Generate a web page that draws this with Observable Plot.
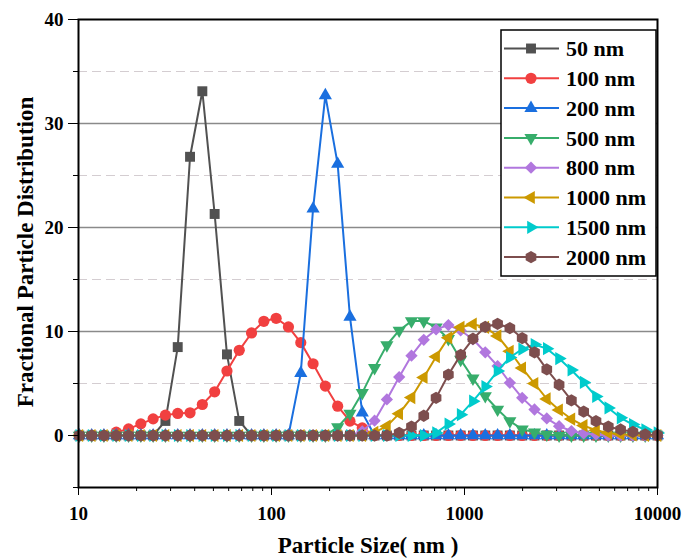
<!DOCTYPE html>
<html>
<head>
<meta charset="utf-8">
<script src="https://cdn.jsdelivr.net/npm/d3@7"></script>
<script src="https://cdn.jsdelivr.net/npm/@observablehq/plot@0.6"></script>
<style>
  html, body { margin: 0; padding: 0; background: #fff; }
  #chart { width: 684px; height: 560px; }
</style>
</head>
<body>
<div id="chart"></div>
<script>
// Particle size classes (nm)
const sizes = [10.10, 11.70, 13.54, 15.69, 18.17, 21.04, 24.36, 28.21, 32.67, 37.84,
  43.82, 50.75, 58.77, 68.06, 78.82, 91.28, 105.7, 122.4, 141.8, 164.2,
  190.1, 220.2, 255.0, 295.3, 342.0, 396.1, 458.7, 531.2, 615.1, 712.4,
  825.0, 955.4, 1106, 1281, 1484, 1718, 1990, 2305, 2669, 3091,
  3580, 4145, 4801, 5560, 6439, 7456, 8635, 10000];

const seriesNames = ["50 nm", "100 nm", "200 nm", "500 nm", "800 nm", "1000 nm", "1500 nm", "2000 nm"];
const seriesColors = ["#515151", "#F14040", "#1A6FDF", "#37AD6B", "#B177DE", "#CC9900", "#00CBCC", "#7D4E4E"];

const v50 = [0,0,0,0,0,0,0,1.4,8.5,26.8, 33.1,21.3,7.8,1.4,0,0,0,0,0,0, 0,0,0,0,0,0,0,0,0,0, 0,0,0,0,0,0,0,0,0,0, 0,0,0,0,0,0,0,0];
const v100 = [0,0,0,0.32,0.64,1.12,1.6,1.96,2.12,2.18, 2.98,4.2,6.2,8.19,9.86,10.98,11.27,10.44,8.93,6.9, 4.75,2.82,1.38,0.73,0,0,0,0,0,0, 0,0,0,0,0,0,0,0,0,0, 0,0,0,0,0,0,0,0];
const v200 = [0,0,0,0,0,0,0,0,0,0, 0,0,0,0,0,0,0,0,6.0,21.8, 32.7,26.1,11.4,2.2,0,0,0,0,0,0, 0,0,0,0,0,0,0,0,0,0, 0,0,0,0,0,0,0,0];
const v500 = [0,0,0,0,0,0,0,0,0,0, 0,0,0,0,0,0,0,0,0,0, 0,0.8,2.1,4.1,6.5,8.7,10.1,11.0,11.0,10.4, 9.3,7.3,5.5,3.8,2.5,1.38,0.6,0.3,0.1,0, 0,0,0,0,0,0,0,0];
const v800 = [0,0,0,0,0,0,0,0,0,0, 0,0,0,0,0,0,0,0,0,0, 0,0,0,0.4,1.42,3.47,5.62,7.68,9.2,10.2, 10.62,10.1,9.25,8.0,6.68,5.07,3.62,2.5,1.64,0.9, 0.43,0.2,0.1,0,0,0,0,0];
const v1000 = [0,0,0,0,0,0,0,0,0,0, 0,0,0,0,0,0,0,0,0,0, 0,0,0,0,0.3,0.9,2.1,3.65,5.58,7.58, 9.4,10.4,10.7,10.4,9.57,8.1,6.48,5.0,3.52,2.45, 1.58,0.95,0.5,0.25,0.12,0.05,0,0];
const v1500 = [0,0,0,0,0,0,0,0,0,0, 0,0,0,0,0,0,0,0,0,0, 0,0,0,0,0,0,0,0,0,0.25, 1.1,2.0,3.3,4.7,6.2,7.5,8.3,8.75,8.35,7.4, 6.3,5.1,3.75,2.65,1.7,1.05,0.55,0.25];
const v2000 = [0,0,0,0,0,0,0,0,0,0, 0,0,0,0,0,0,0,0,0,0, 0,0,0,0,0,0,0.25,0.85,1.9,3.62, 5.85,7.75,9.3,10.44,10.74,10.33,9.37,8.0,6.36,4.88, 3.37,2.3,1.38,0.85,0.58,0.35,0.1,0.05];

const seriesValues = [v50, v100, v200, v500, v800, v1000, v1500, v2000];

const yMajor = [0, 10, 20, 30, 40];
const yMinor = [-5, 5, 15, 25, 35];
const xMajor = [10, 100, 1000, 10000];
const xMinor = [20,30,40,50,60,70,80,90,200,300,400,500,600,700,800,900,2000,3000,4000,5000,6000,7000,8000,9000];

// custom marker shapes
const s3 = Math.sqrt(3);
const triUp = {draw(c, size) { const y = -Math.sqrt(size / (s3 * 3)); c.moveTo(0, 2*y); c.lineTo(-s3*y, -y); c.lineTo(s3*y, -y); c.closePath(); }};
const triDown = {draw(c, size) { const y = -Math.sqrt(size / (s3 * 3)); c.moveTo(0, -2*y); c.lineTo(-s3*y, y); c.lineTo(s3*y, y); c.closePath(); }};
const triLeft = {draw(c, size) { const y = -Math.sqrt(size / (s3 * 3)); c.moveTo(2*y, 0); c.lineTo(-y, -s3*y); c.lineTo(-y, s3*y); c.closePath(); }};
const triRight = {draw(c, size) { const y = -Math.sqrt(size / (s3 * 3)); c.moveTo(-2*y, 0); c.lineTo(y, s3*y); c.lineTo(y, -s3*y); c.closePath(); }};
const hexagon = {draw(c, size) { const r = Math.sqrt(size / (3 * s3 / 2)); for (let k = 0; k < 6; k++) { const a = k * Math.PI / 3 - Math.PI / 2; const px = r * Math.cos(a), py = r * Math.sin(a); if (k === 0) c.moveTo(px, py); else c.lineTo(px, py); } c.closePath(); }};
const diamond = {draw(c, size) { const h = Math.sqrt(size / 2); c.moveTo(0, -h); c.lineTo(h, 0); c.lineTo(0, h); c.lineTo(-h, 0); c.closePath(); }};
const square = {draw(c, size) { const h = Math.sqrt(size) / 2; c.rect(-h, -h, 2*h, 2*h); }};
const circle = {draw(c, size) { const r = Math.sqrt(size / Math.PI); c.moveTo(r, 0); c.arc(0, 0, r, 0, 2 * Math.PI); }};

const seriesSymbols = [square, circle, triUp, triDown, diamond, triLeft, triRight, hexagon];
const seriesR = [5.6, 5.6, 4.9, 4.9, 4.9, 4.9, 4.9, 5.6];

const marks = [
  Plot.ruleY([0, 10, 20, 30], {stroke: "#8a8a8a", strokeWidth: 1.6}),
  Plot.ruleY([5, 15, 25, 35], {stroke: "#d4cdd1", strokeWidth: 1.2, strokeDasharray: "9,5"}),
];
seriesValues.forEach((vals, k) => {
  const rows = sizes.map((s, i) => ({x: s, y: vals[i]}));
  marks.push(Plot.line(rows, {x: "x", y: "y", stroke: seriesColors[k], strokeWidth: 2}));
  marks.push(Plot.dot(rows, {x: "x", y: "y", fill: seriesColors[k], stroke: "none", r: seriesR[k], symbol: seriesSymbols[k]}));
});
marks.push(
  Plot.axisY(yMajor, {tickSize: 10, tickPadding: 5, label: null, fontSize: 19}),
  Plot.axisY(yMinor, {tickSize: 5, tickFormat: () => "", label: null}),
  Plot.axisX(xMajor, {tickSize: 8, tickPadding: 11, label: null, tickFormat: d => String(d), fontSize: 19}),
  Plot.axisX(xMinor, {tickSize: 4, tickFormat: () => "", label: null}),
  Plot.frame({stroke: "#000", strokeWidth: 2})
);

const chart = Plot.plot({
  width: 684,
  height: 560,
  marginLeft: 78,
  marginRight: 27,
  marginTop: 19,
  marginBottom: 73,
  style: {fontFamily: "'Liberation Serif', 'Times New Roman', serif", fontWeight: "bold", fontSize: "19px", background: "#fff", color: "#000"},
  x: {type: "log", domain: [10, 10000]},
  y: {domain: [-5, 40]},
  marks
});
document.getElementById("chart").appendChild(chart);

// titles and legend
const svg = d3.select(chart);
const font = "'Liberation Serif', 'Times New Roman', serif";
svg.append("text")
  .attr("transform", "translate(25,252) rotate(-90)")
  .attr("text-anchor", "middle").attr("dy", "0.35em")
  .style("font-family", font).style("font-weight", "bold").style("font-size", "23px")
  .attr("fill", "#000")
  .text("Fractional Particle Distribution");
svg.append("text")
  .attr("x", 368).attr("y", 553)
  .attr("text-anchor", "middle")
  .style("font-family", font).style("font-weight", "bold").style("font-size", "23px")
  .attr("fill", "#000")
  .text("Particle Size( nm )");

const lg = svg.append("g");
lg.append("rect").attr("x", 501).attr("y", 30).attr("width", 155).attr("height", 246)
  .attr("fill", "#fff").attr("stroke", "#000").attr("stroke-width", 1.5);
seriesNames.forEach((name, k) => {
  const cy = 48.5 + k * 29.8;
  lg.append("line").attr("x1", 504).attr("x2", 559).attr("y1", cy).attr("y2", cy)
    .attr("stroke", seriesColors[k]).attr("stroke-width", 2);
  lg.append("path").attr("transform", `translate(531,${cy})`)
    .attr("d", d3.symbol(seriesSymbols[k], Math.PI * seriesR[k] * seriesR[k])())
    .attr("fill", seriesColors[k]);
  lg.append("text").attr("x", 566).attr("y", cy).attr("dy", "0.35em")
    .attr("text-anchor", "start")
    .style("font-family", font).style("font-weight", "bold").style("font-size", "22px")
    .attr("fill", "#000")
    .text(name);
});
</script>
</body>
</html>
